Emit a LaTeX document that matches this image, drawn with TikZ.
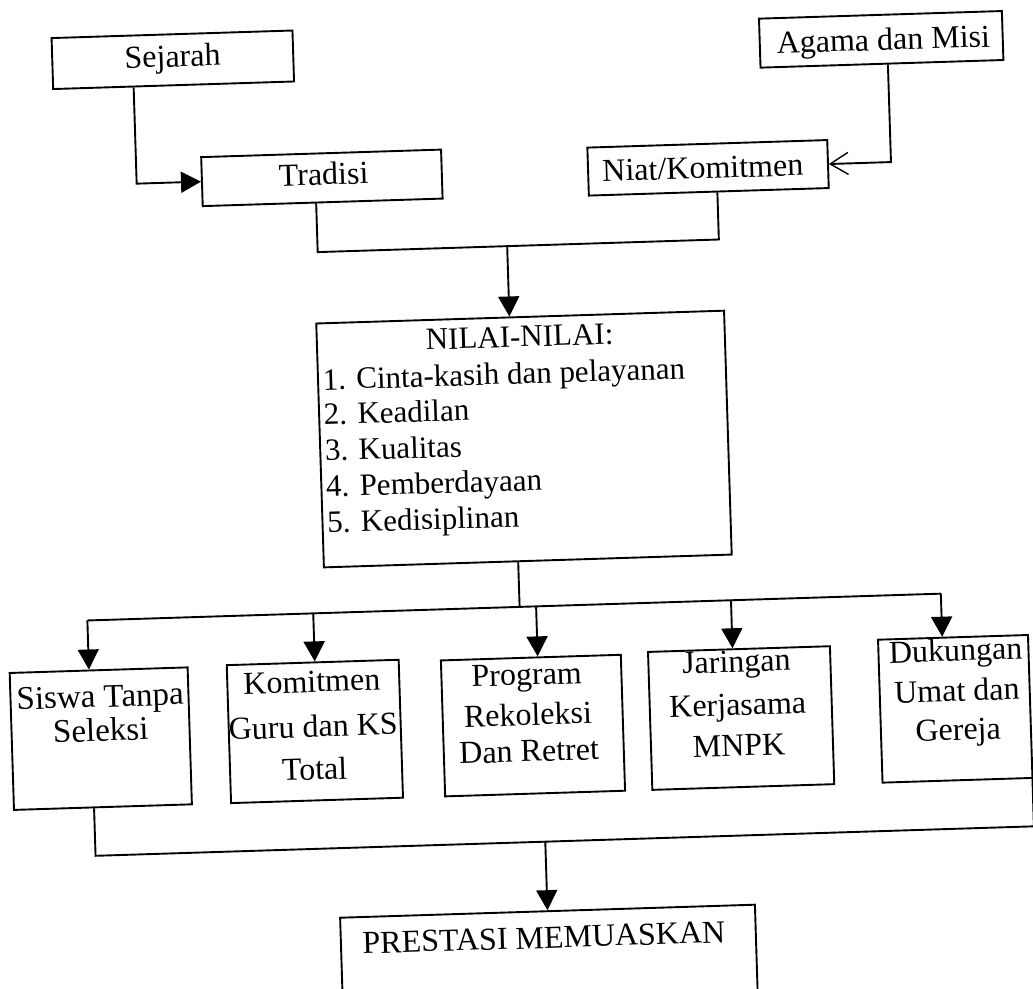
\documentclass[tikz,border=0pt]{standalone}
\usepackage{fontspec}
\setmainfont{Liberation Serif}
\usetikzlibrary{arrows.meta}
\begin{document}
\begin{tikzpicture}[x=1pt,y=-1pt]
\path[use as bounding box, fill=white] (0,0) rectangle (1033,988);
\begin{scope}[rotate around={1.8:(516,494)}, transform shape, line width=1.9pt,
  box/.style={draw, line width=1.9pt, inner sep=0pt},
  txt/.style={inner sep=0pt, anchor=base, font=\fontsize{32}{36}\selectfont},
  ntxt/.style={inner sep=0pt, anchor=base, font=\fontsize{31}{36}\selectfont},
  ltxt/.style={ntxt, anchor=base west},
  arr/.style={-{Triangle[length=20pt,width=21pt]}},
  oarr/.style={-{Straight Barb[length=18pt,width=22pt,line width=1.4pt]}}]

% boxes
\node[box, minimum width=241pt, minimum height=51pt] (sejarah) at (186.6,49.2) {};
\node[box, minimum width=240pt, minimum height=49pt] (tradisi) at (331.9,171.9) {};
\node[box, minimum width=243pt, minimum height=49pt] (agama) at (895.3,51) {};
\node[box, minimum width=240pt, minimum height=48pt] (niat) at (718.2,174) {};
\node[box, minimum width=408pt, minimum height=244pt] (nilai) at (525.7,439.3) {};
\node[box, minimum width=178pt, minimum height=137pt] (siswa) at (93.3,725.5) {};
\node[box, minimum width=172pt, minimum height=138pt] (komitmen) at (307.5,725) {};
\node[box, minimum width=180pt, minimum height=136pt] (program) at (525.7,726) {};
\node[box, minimum width=182pt, minimum height=138pt] (jaringan) at (734,725) {};
\node[box, minimum width=150pt, minimum height=143pt] (dukungan) at (948.3,722.5) {};
\node[box, minimum width=415pt, minimum height=100pt] (prestasi) at (534.4,962) {};

% texts
\node[txt] (tsejarah) at (186.4,56.2) {Sejarah};
\node[txt] (ttradisi) at (333.7,179) {Tradisi};
\node[txt] (tagama) at (897.4,62) {Agama dan Misi};
\node[txt] (tniat) at (712.9,184.5) {Niat/Komitmen};
\node[ntxt] (tnilai) at (524.5,347) {NILAI-NILAI:};
\node[ltxt] (n1) at (325.5,384) {1. Cinta-kasih dan pelayanan};
\node[ltxt] (n2) at (325.5,419) {2. Keadilan};
\node[ltxt] (n3) at (325.5,455) {3. Kualitas};
\node[ltxt] (n4) at (325.5,491) {4. Pemberdayaan};
\node[ltxt] (n5) at (325.5,527) {5. Kedisiplinan};
\node[txt, font=\fontsize{33}{36}\selectfont] (s1) at (94,694) {Siswa Tanpa};
\node[txt, font=\fontsize{33}{36}\selectfont] (s2) at (93.5,728) {Seleksi};
\node[txt] (k1) at (306,685.6) {Komitmen};
\node[txt] (k2) at (306,730.6) {Guru dan KS};
\node[txt] (k3) at (306,773.5) {Total};
\node[txt] (p1) at (521,685.4) {Program};
\node[txt] (p2) at (521,725.4) {Rekoleksi};
\node[txt] (p3) at (521,762) {Dan Retret};
\node[txt] (j1t) at (731,679) {Jaringan};
\node[txt] (j2t) at (731,722) {Kerjasama};
\node[txt] (j3t) at (731,763) {MNPK};
\node[txt] (d1t) at (950.5,674.8) {Dukungan};
\node[txt] (d2t) at (950.5,714.8) {Umat dan};
\node[txt] (d3t) at (950.5,753.8) {Gereja};
\node[txt] (tprestasi) at (530,948.8) {PRESTASI MEMUASKAN};

% junction coordinates
\coordinate (cA) at (146.6,171.9);
\coordinate (cB) at (901.3,174);
\coordinate (cT) at (325.4,246);
\coordinate (cN) at (726.8,246);
\coordinate (j1) at (515,246);
\coordinate (j2) at (516.1,607);
\coordinate (d1) at (83.6,607);
\coordinate (d2) at (309.6,607);
\coordinate (d3) at (532.6,607);
\coordinate (d4) at (727.6,607);
\coordinate (d5) at (937.6,607);
\coordinate (e1) at (84.4,842.5);
\coordinate (e2) at (1023.3,842.5);
\coordinate (e3) at (534.4,842.5);

% connectors
\draw[arr] ([xshift=-40pt]sejarah.south) -- (cA) -- (tradisi.west);
\draw[oarr] ([xshift=6pt]agama.south) -- (cB) -- (niat.east);
\draw ([xshift=-6.5pt]tradisi.south) -- (cT) -- (cN) -- ([xshift=8.6pt]niat.south);
\draw[arr] (j1) -- ([xshift=-10.7pt]nilai.north);
\draw ([xshift=-9.6pt]nilai.south) -- (j2);
\draw (d1) -- (d5);
\draw[arr] (d1) -- ([xshift=-9.7pt]siswa.north);
\draw[arr] (d2) -- ([xshift=2.1pt]komitmen.north);
\draw[arr] (d3) -- ([xshift=6.9pt]program.north);
\draw[arr] (d4) -- ([xshift=-6.4pt]jaringan.north);
\draw[arr] (d5) -- ([xshift=-10.7pt]dukungan.north);
\draw ([xshift=-8.9pt]siswa.south) -- (e1) -- (e2) -- ([xshift=-0.9pt]dukungan.south east);
\draw[arr] (e3) -- (prestasi.north);
\end{scope}
\end{tikzpicture}
\end{document}
